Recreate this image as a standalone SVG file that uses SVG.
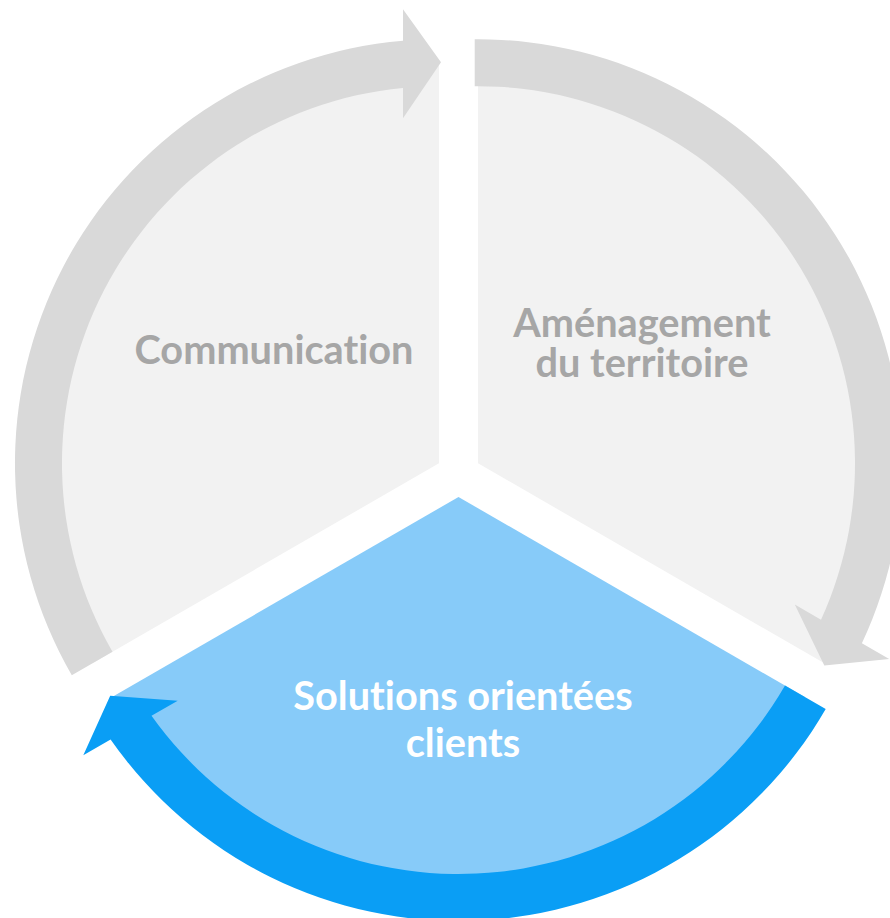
<svg xmlns="http://www.w3.org/2000/svg" width="890" height="918" viewBox="0 0 890 918">
  <style>
    .sec-gray { fill: #F2F2F2; }
    .sec-blue { fill: #87CBF9; }
    .arr-gray { fill: #D9D9D9; }
    .arr-blue { fill: #0A9EF5; }
    .lbl { font-family: Lato, "Liberation Sans", sans-serif; font-weight: bold; font-size: 39.7px; text-anchor: middle; font-variant-ligatures: none; }
    .lbl-gray { fill: #A6A6A6; }
    .lbl-white { fill: #FFFFFF; }
  </style>
  <rect width="890" height="918" fill="#FFFFFF"/>
  <g id="node-communication">
    <path class="sec-gray" d="M 439 463.25 L 92.6 663.25 A 400 400 0 0 1 439 63.25 Z"/>
    <text class="lbl lbl-gray" x="274" y="364">Communication</text>
  </g>
  <g id="node-amenagement">
    <path class="sec-gray" d="M 478 463.25 L 478 63.25 A 400 400 0 0 1 824.4 663.25 Z"/>
    <text class="lbl lbl-gray" x="642" y="337">Aménagement</text>
    <text class="lbl lbl-gray" x="642" y="377">du territoire</text>
  </g>
  <g id="node-solutions">
    <path class="sec-blue" d="M 458.5 497 L 804.9 697 A 400 400 0 0 1 112.1 697 Z"/>
  </g>
  <g id="connectors">
    <path class="arr-gray" d="M 71.8 675.25 A 424 424 0 0 1 403 40.75 L 403 9.25 L 441 62.25 L 403 118.25 L 403 87.95 A 377 377 0 0 0 112.5 651.75 Z"/>
    <path class="arr-gray" d="M 474.7 39.26 A 424 424 0 0 1 861.9 643.3 L 889.2 659.1 L 824.3 665.5 L 794.8 604.6 L 821 619.7 A 377 377 0 0 0 474.7 86.26 Z"/>
    <path class="arr-blue" d="M 825.7 709 A 424 424 0 0 1 110.6 739.4 L 83.3 755.2 L 110.2 695.8 L 177.7 700.7 L 151.5 715.8 A 377 377 0 0 0 785 685.5 Z"/>
  </g>
  <g id="label-solutions">
    <text class="lbl lbl-white" x="463" y="710">Solutions orientées</text>
    <text class="lbl lbl-white" x="463" y="757">clients</text>
  </g>
</svg>
